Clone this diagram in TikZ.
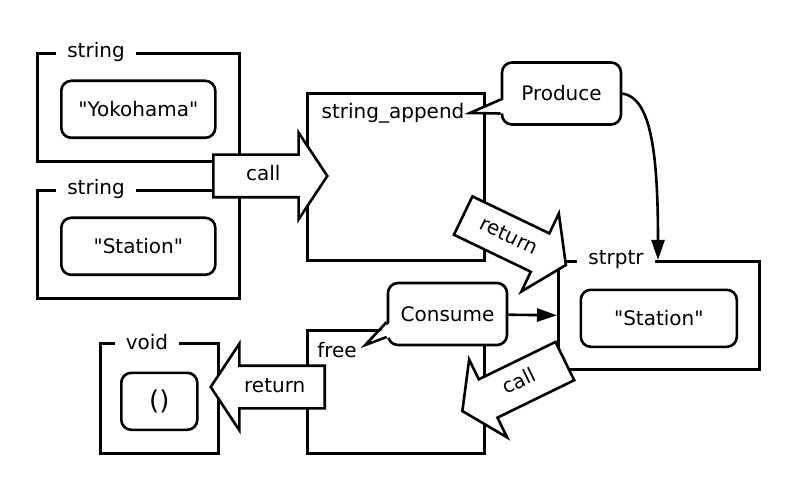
\documentclass[tikz,border=0pt]{standalone}
\usepackage{fontspec}
\setmainfont{DejaVu Sans}
\usetikzlibrary{shapes,arrows,arrows.meta,positioning}
\tikzstyle{frame} = [draw, line width=2.6pt, anchor=north west]
\tikzstyle{value} = [draw, line width=2.6pt, rounded corners=10pt, minimum height=57pt]
\tikzstyle{tag} = [fill=white, inner xsep=11pt, inner ysep=1pt]
\tikzstyle{bubble} = [draw, fill=white, line width=2.6pt, rounded corners=10pt,
    minimum width=119pt, minimum height=62pt]
\tikzstyle{block} = [single arrow, draw, fill=white, line width=2.6pt,
    minimum height=114pt, text height=14pt, text depth=4pt, inner ysep=11pt,
    single arrow head extend=22pt, single arrow tip angle=113, single arrow head indent=0pt]
\tikzset{
  line/.style ={draw, line width=2.6pt, -{Triangle[length=20pt,width=13pt]}}
}
\newcommand{\qt}[1]{\textquotedbl#1\textquotedbl}

\begin{document}
\begin{tikzpicture}[x=1pt,y=1pt,line join=miter,font=\fontsize{20}{24}\selectfont]
  \useasboundingbox (0,0) rectangle (800,-486);
  \node[frame, minimum width=202pt, minimum height=108pt] (str1) at (36,-52) {};
  \node[frame, minimum width=202pt, minimum height=108pt] (str2) at (36,-189) {};
  \node[frame, minimum width=177pt, minimum height=167pt] (append) at (306,-92) {};
  \node[frame, minimum width=177pt, minimum height=123pt] (free) at (306,-329) {};
  \node[frame, minimum width=118pt, minimum height=110pt] (void) at (99,-342) {};
  \node[frame, minimum width=201pt, minimum height=108pt] (strptr) at (557,-260) {};

  \node[tag] (str1_tag) at ([xshift=60pt]str1.north west) {string};
  \node[tag] (str2_tag) at ([xshift=60pt]str2.north west) {string};
  \node[tag] (void_tag) at ([xshift=48pt]void.north west) {void};
  \node[tag] (strptr_tag) at ([xshift=59pt]strptr.north west) {strptr};
  \node (append_tag) at ([xshift=87pt,yshift=-21pt]append.north west) {string\_append};
  \node (free_tag) at ([xshift=31pt,yshift=-21pt]free.north west) {free};

  \node[value, minimum width=154pt] (yokohama) at ([yshift=-2pt]str1.center) {\qt{Yokohama}};
  \node[value, minimum width=154pt] (station) at ([yshift=-2pt]str2.center) {\qt{Station}};
  \node[value, minimum width=76pt, font=\fontsize{26}{30}\selectfont] (unit) at ([yshift=-3pt]void.center) {()};
  \node[value, minimum width=156pt] (station_ptr) at ([yshift=-3pt]strptr.center) {\qt{Station}};

  \node[bubble] (produce) at (561.5,-93.5) {Produce};
  \node[bubble] (consume) at (447.5,-314) {Consume};
  % callout pointers
  \fill[white] ([xshift=4pt,yshift=-6pt]produce.west) -- ([xshift=2pt]append_tag.east)
    -- ([xshift=4pt,yshift=-20pt]produce.west) -- cycle;
  \draw[line width=2.6pt] ([yshift=-6pt]produce.west) -- ([xshift=2pt]append_tag.east)
    -- ([yshift=-20pt]produce.west);
  \fill[white] ([xshift=4pt,yshift=-8pt]consume.west) -- ([xshift=5pt,yshift=5pt]free_tag.east)
    -- ([xshift=4pt,yshift=-23pt]consume.west) -- cycle;
  \draw[line width=2.6pt] ([yshift=-8pt]consume.west) -- ([xshift=5pt,yshift=5pt]free_tag.east)
    -- ([yshift=-23pt]consume.west);

  \begin{scope}[every path/.style=line]
    \path (produce.east) .. controls +(28,-4) and +(0,110) .. ([xshift=101pt]strptr.north west);
    \path (consume) -- (strptr.west);
  \end{scope}

  \node[block, anchor=tail] (call_in) at (212,-176) {call};
  \node[block, rotate=-25.7, anchor=tail] (return_out) at (462,-215) {return};
  \node[block, rotate=26, shape border rotate=180, anchor=tail] (call_free) at (566,-360.5) {call};
  \node[block, shape border rotate=180, anchor=tail] (return_void) at (326,-387) {return};
\end{tikzpicture}
\end{document}
